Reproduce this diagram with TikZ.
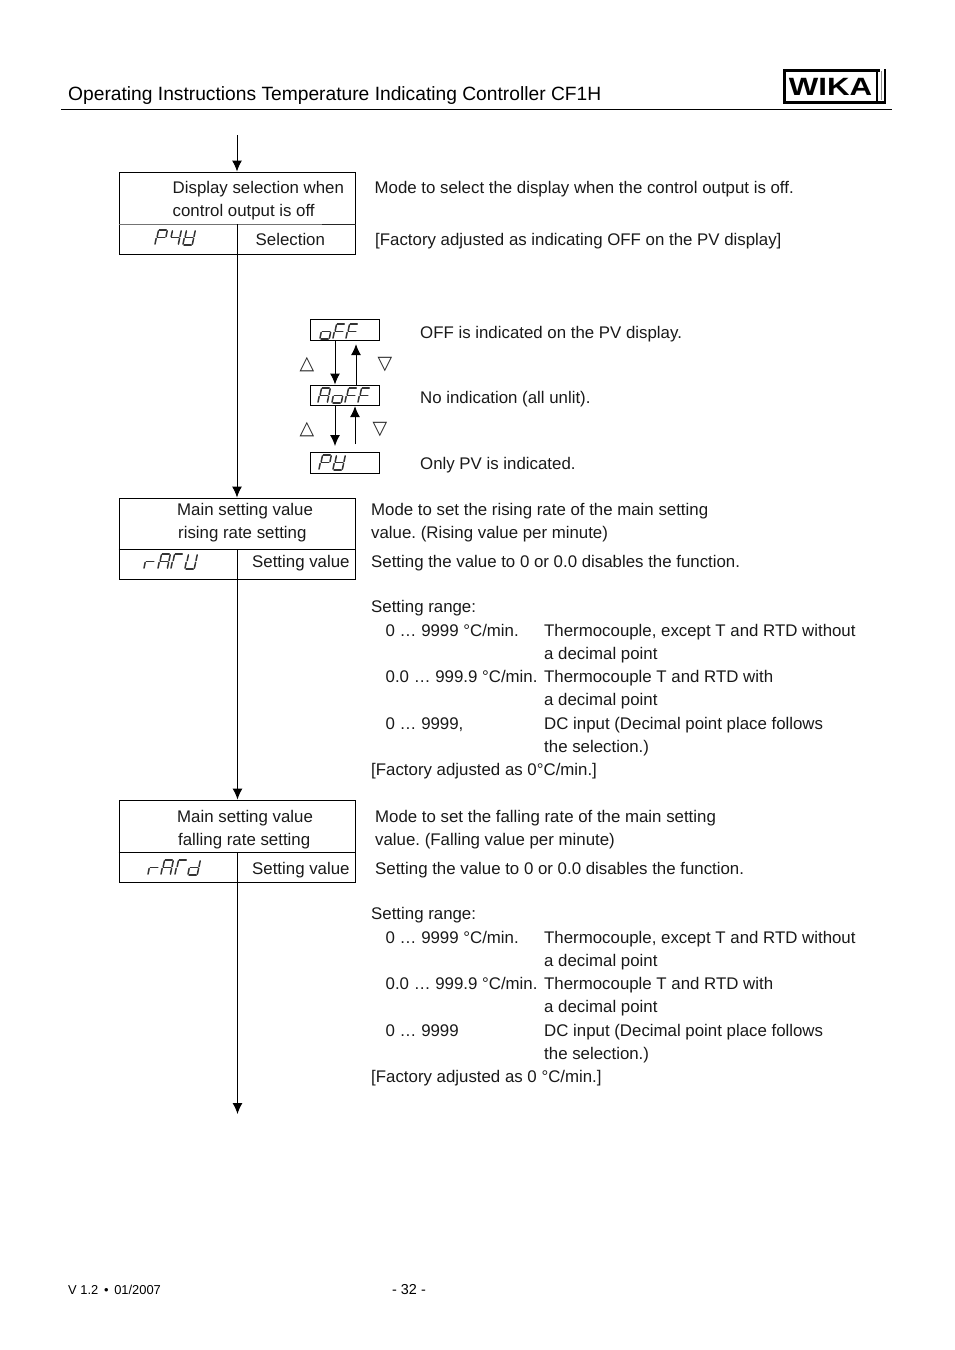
\documentclass[tikz,border=0pt]{standalone}
\usepackage{fontspec}
\setmainfont{Liberation Sans}
\newfontfamily\symfont{DejaVu Sans}
\usetikzlibrary{arrows.meta}
\newcounter{tn}
\tikzset{
  box/.style={draw=black,line width=1pt,fill=none,inner sep=0pt,minimum width=236.5pt},
  disp/.style={draw=black,line width=1.1pt,inner sep=0pt,minimum width=69.5pt},
  flow/.style={draw=black,line width=1pt,-{Latex[length=11pt,width=10pt]}},
  txt/.style={anchor=base west,inner sep=0pt,font=\fontsize{16.84}{20}\selectfont,text=black!90},
  sym/.style={inner sep=0pt,font=\symfont\fontsize{19}{20}\selectfont,text=black!85},
  segline/.style={line width=1.5pt,black!80,line cap=round},
}
\newcommand{\tl}[3]{\stepcounter{tn}\node[txt] (t\arabic{tn}) at (#1,#2) {\frenchspacing #3};}
\expandafter\def\csname segA\endcsname{\draw[segline] (5.4,0) -- (12.2,0);}
\expandafter\def\csname segB\endcsname{\draw[segline] (13.2,0.9) -- (12,6.6);}
\expandafter\def\csname segC\endcsname{\draw[segline] (11.6,8.4) -- (10.4,14.1);}
\expandafter\def\csname segD\endcsname{\draw[segline] (2,15) -- (9.2,15);}
\expandafter\def\csname segE\endcsname{\draw[segline] (2.2,8.4) -- (1,14.1);}
\expandafter\def\csname segF\endcsname{\draw[segline] (4.4,0.9) -- (3.2,6.6);}
\expandafter\def\csname segG\endcsname{\draw[segline] (3.6,7.5) -- (10.8,7.5);}
\newcommand{\seven}[3]{%
 \begin{scope}[shift={(#1,#2)}]
 \foreach \s in {#3}{\csname seg\s\endcsname}
 \end{scope}}
\begin{document}
\begin{tikzpicture}[x=1pt,y=-1pt]
\useasboundingbox (0,0) rectangle (954,1350);
% header
\node[anchor=base west,inner sep=0pt,font=\fontsize{19.22}{24}\selectfont] (head) at (68,100) {Operating Instructions Temperature Indicating Controller CF1H};
\coordinate (ruleL) at (61,109.5);
\coordinate (ruleR) at (892,109.5);
\draw[line width=1pt] (ruleL) -- (ruleR);
% logo
\draw[line width=2.6pt] (880,70.3) -- (784.3,70.3) -- (784.3,102.5) -- (885,102.5) -- (885,69);
\draw[line width=2.4pt] (877,71) -- (877,102);
\draw[line width=0.7pt,black!45] (881,71) -- (881,100);
\node[inner sep=0pt,font=\bfseries\fontsize{25}{25}\selectfont,xscale=1.25] (logo) at (830.5,87) {WIKA};
% boxes
\node[box,minimum height=82.5pt,anchor=north west] (b1) at (118.5,171.5) {};
\node[box,minimum height=81.5pt,anchor=north west] (b2) at (118.5,497.5) {};
\node[box,minimum height=82.5pt,anchor=north west] (b3) at (118.5,799.5) {};
\draw[line width=1pt,black!55] (b1.west |- 0,224) -- (322,224);
\draw[line width=1pt,black!85] (322,224) -- (b1.east |- 0,224);
\draw[line width=1pt] (237,224) -- (237,254);
\draw[line width=1pt] (b2.west |- 0,549.5) -- (b2.east |- 0,549.5);
\draw[line width=1pt] (237,549.5) -- (237,579);
\draw[line width=1pt] (b3.west |- 0,852) -- (b3.east |- 0,852);
\draw[line width=1pt] (237,852) -- (237,882);
% connectors
\coordinate (start) at (237,135);
\coordinate (c2) at (237.5,0);
\coordinate (end) at (237.5,1114);
\draw[flow] (start) -- (b1.north -| start);
\draw[flow] (b1.south -| start) -- (b2.north -| start);
\draw[flow] (b2.south -| c2) -- (b3.north -| c2);
\draw[flow] (b3.south -| c2) -- (end);
% display boxes
\node[disp,minimum height=21.5pt,anchor=north west] (d1) at (309.5,318.5) {};
\node[disp,minimum height=20.5pt,anchor=north west] (d2) at (309.5,384.5) {};
\node[disp,minimum height=21.5pt,anchor=north west] (d3) at (309.5,451.5) {};
\coordinate (colA) at (335,0);
\coordinate (colB) at (356,0);
\coordinate (colC) at (355,0);
\coordinate (dn2) at (335,446);
\coordinate (up2) at (355,444);
\draw[flow] (d1.south -| colA) -- (d2.north -| colA);
\draw[flow,shorten >=3pt] (d2.north -| colB) -- (d1.south -| colB);
\draw[flow] (d2.south -| colA) -- (dn2);
\draw[flow] (up2) -- (d2.south -| colC);
\node[sym] (u1) at (307,365) {△};
\node[sym] (v1) at (385,365) {▽};
\node[sym] (u2) at (307,430) {△};
\node[sym] (v2) at (380,430) {▽};
% seven segment
\seven{154}{230}{A,B,E,F,G}
\seven{168}{230}{B,C,F,G}
\seven{182}{230}{B,C,D,E,F,G}
\seven{319}{324}{C,D,E,G}
\seven{332}{324}{A,E,F,G}
\seven{345}{324}{A,E,F,G}
\seven{317}{388}{A,B,C,E,F,G}
\seven{331}{388}{C,D,E,G}
\seven{344}{388}{A,E,F,G}
\seven{357}{388}{A,E,F,G}
\seven{318}{455}{A,B,E,F,G}
\seven{332}{455}{B,C,D,E,F,G}
\seven{143}{554}{E,G}
\seven{157}{554}{A,B,C,E,F,G}
\seven{170}{554}{A,E,F}
\seven{184}{554}{B,C,D,E,F}
\seven{147}{860}{E,G}
\seven{160}{860}{A,B,C,E,F,G}
\seven{174}{860}{A,E,F}
\seven{187}{860}{B,C,D,E,G}
% box text
\tl{172.5}{193}{Display selection when}
\tl{172.5}{216}{control output is off}
\tl{255.5}{245}{Selection}
\tl{177}{515}{Main setting value}
\tl{178}{538}{rising rate setting}
\tl{252}{567}{Setting value}
\tl{177}{822}{Main setting value}
\tl{178}{845}{falling rate setting}
\tl{252}{874}{Setting value}
% side text block 1
\tl{374.5}{193}{Mode to select the display when the control output is off.}
\tl{375}{245}{[Factory adjusted as indicating OFF on the PV display]}
\tl{420}{338}{OFF is indicated on the PV display.}
\tl{420}{403}{No indication (all unlit).}
\tl{420}{469}{Only PV is indicated.}
% block 2
\tl{371}{515}{Mode to set the rising rate of the main setting}
\tl{371}{538}{value. (Rising value per minute)}
\tl{371}{567}{Setting the value to 0 or 0.0 disables the function.}
\tl{371}{612}{Setting range:}
\tl{385.5}{636}{0 … 9999 °C/min.}
\tl{544}{636}{Thermocouple, except T and RTD without}
\tl{544}{659}{a decimal point}
\tl{385.5}{682}{0.0 … 999.9 °C/min.}
\tl{544}{682}{Thermocouple T and RTD with}
\tl{544}{705}{a decimal point}
\tl{385.5}{729}{0 … 9999,}
\tl{544}{729}{DC input (Decimal point place follows}
\tl{544}{752}{the selection.)}
\tl{371}{775}{[Factory adjusted as 0°C/min.]}
% block 3
\tl{375}{822}{Mode to set the falling rate of the main setting}
\tl{375}{845}{value. (Falling value per minute)}
\tl{375}{874}{Setting the value to 0 or 0.0 disables the function.}
\tl{371}{919}{Setting range:}
\tl{385.5}{943}{0 … 9999 °C/min.}
\tl{544}{943}{Thermocouple, except T and RTD without}
\tl{544}{966}{a decimal point}
\tl{385.5}{989}{0.0 … 999.9 °C/min.}
\tl{544}{989}{Thermocouple T and RTD with}
\tl{544}{1012}{a decimal point}
\tl{385.5}{1036}{0 … 9999}
\tl{544}{1036}{DC input (Decimal point place follows}
\tl{544}{1059}{the selection.)}
\tl{371}{1082}{[Factory adjusted as 0 °C/min.]}
% footer
\node[anchor=base west,inner sep=0pt,font=\fontsize{12.9}{14}\selectfont] (fl) at (68,1294) {V 1.2 \,•\, 01/2007};
\node[anchor=base west,inner sep=0pt,font=\fontsize{14.4}{16}\selectfont] (fc) at (392,1294) {- 32 -};
\end{tikzpicture}
\end{document}
